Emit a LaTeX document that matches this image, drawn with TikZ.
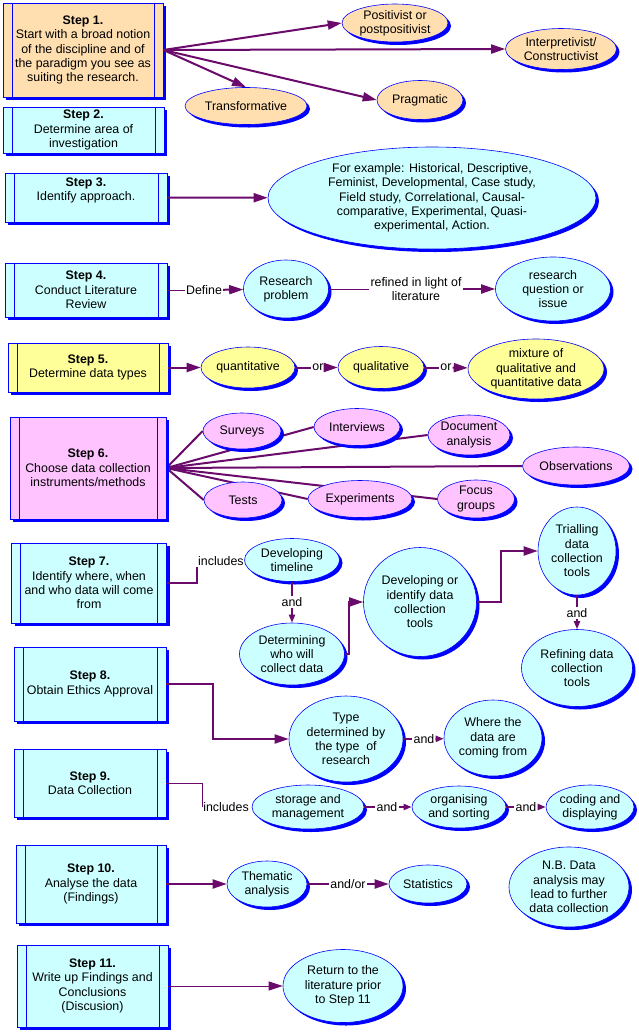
\documentclass[tikz,border=0pt]{standalone}
\usepackage{fontspec}
\setmainfont{Liberation Sans}
\usetikzlibrary{arrows.meta,shapes.geometric,shadows,backgrounds}
\definecolor{boxb}{HTML}{0000FF}
\definecolor{linkc}{HTML}{6A0A6A}
\definecolor{peachc}{HTML}{FFDFB0}
\definecolor{cyanc}{HTML}{CCFFFF}
\definecolor{yelc}{HTML}{FFFF99}
\definecolor{pinkc}{HTML}{FFC4FF}
\tikzset{
  stp/.style={rectangle,draw=boxb,line width=0.8pt,align=center,inner sep=0pt,
    font=\fontsize{12.4}{14.3}\selectfont,
    drop shadow={shadow xshift=3pt,shadow yshift=-3pt,fill=boxb,opacity=1},
    path picture={\draw[boxb,line width=0.8pt]
      ([xshift=9pt]path picture bounding box.north west) -- ([xshift=9pt]path picture bounding box.south west)
      ([xshift=-9pt]path picture bounding box.north east) -- ([xshift=-9pt]path picture bounding box.south east);}},
  el/.style={ellipse,draw=boxb,line width=0.6pt,align=center,inner sep=0pt,
    font=\fontsize{12.4}{14.3}\selectfont,
    drop shadow={shadow xshift=3pt,shadow yshift=-3pt,fill=boxb,opacity=1}},
  sz/.style 2 args={minimum width=#1pt,minimum height=#2pt},
  lb/.style={inner sep=1pt,align=center,font=\fontsize{12.4}{14.3}\selectfont},
  ln/.style={linkc,line width=2pt},
  lt/.style={linkc,line width=1pt},
  ar/.style={ln,-{Triangle[length=14pt,width=9pt]}},
  ars/.style={ln,-{Triangle[length=8pt,width=6pt]}},
  art/.style={lt,-{Triangle[length=14pt,width=9pt]}}
}
\begin{document}
\begin{tikzpicture}[x=1pt,y=-1pt]
\useasboundingbox (0,0) rectangle (639,1034);
% steps
\node[stp,fill=peachc,sz={160}{94}] (s1) at (83,50) {\textbf{Step 1.}\\Start with a broad notion\\of the discipline and of\\the paradigm you see as\\suiting the research.};
\node[stp,fill=cyanc,sz={161}{46}] (s2) at (83.5,130) {\textbf{Step 2.}\\Determine area of\\investigation};
\node[stp,fill=cyanc,sz={162}{49},text depth=17pt] (s3) at (86,197.5) {\textbf{Step 3.}\\Identify approach.};
\node[stp,fill=cyanc,sz={162}{54}] (s4) at (86,290) {\textbf{Step 4.}\\Conduct Literature\\Review};
\node[stp,fill=yelc,sz={160}{49}] (s5) at (88,367.5) {\textbf{Step 5.}\\Determine data types};
\node[stp,fill=pinkc,sz={156}{102}] (s6) at (88,468) {\textbf{Step 6.}\\Choose data collection\\instruments/methods};
\node[stp,fill=cyanc,sz={155}{80}] (s7) at (89,583) {\textbf{Step 7.}\\Identify where, when\\and who data will come\\from};
\node[stp,fill=cyanc,sz={152}{74}] (s8) at (90,684) {\textbf{Step 8.}\\Obtain Ethics Approval};
\node[stp,fill=cyanc,sz={152}{68}] (s9) at (90,783) {\textbf{Step 9.}\\Data Collection};
\node[stp,fill=cyanc,sz={150}{78}] (s10) at (91,884) {\textbf{Step 10.}\\Analyse the data\\(Findings)};
\node[stp,fill=cyanc,sz={151}{82}] (s11) at (92.5,986) {\textbf{Step 11.}\\Write up Findings and\\Conclusions\\(Discusion)};

% step 1
\node[el,fill=peachc,sz={106}{38}] (pos) at (395,23) {Positivist or\\postpositivist};
\node[el,fill=peachc,sz={111}{41}] (inp) at (561,49) {Interpretivist/\\Constructivist};
\node[el,fill=peachc,sz={122}{37}] (tra) at (246,106) {Transformative};
\node[el,fill=peachc,sz={86}{39}] (pra) at (420,100) {Pragmatic};
\draw[ar] (s1.east) -- (pos.west);
\draw[ar] (s1.east) -- (inp.west);
\draw[ar] (s1.east) -- (pra.west);
\draw[ar] (s1.east) -- (tra.north);

% step 3
\node[el,fill=cyanc,sz={328}{102}] (exa) at (432,198) {For example: Historical, Descriptive,\\Feminist, Developmental, Case study,\\Field study, Correlational, Causal-\\comparative, Experimental, Quasi-\\experimental, Action.};
\draw[ar] (s3) -- (exa);

% step 4
\node[lb] (def) at (204,290) {Define};
\node[el,fill=cyanc,sz={85}{58}] (rp) at (286,289) {Research\\problem};
\node[lb] (rfl) at (416,289) {refined in light of\\literature};
\node[el,fill=cyanc,sz={115}{64}] (rq) at (553,289) {research\\question or\\issue};
\draw[lt] (s4) -- (def);
\draw[ar] (def) -- (rp);
\draw[lt] (rp) -- (rfl);
\draw[ar] (rfl) -- (rq);

% step 5
\node[el,fill=yelc,sz={94}{41}] (quan) at (248,367.5) {quantitative};
\node[lb] (or1) at (318,367.5) {or};
\node[el,fill=yelc,sz={86}{42}] (qual) at (381,367.5) {qualitative};
\node[lb] (or2) at (446,367.5) {or};
\node[el,fill=yelc,sz={136}{60}] (mix) at (536,369) {mixture of\\qualitative and\\quantitative data};
\draw[ar] (s5) -- (quan);
\draw[ln] (quan) -- (or1);
\draw[ar] (or1) -- (qual);
\draw[ln] (qual) -- (or2);
\draw[ar] (or2) -- (mix);

% step 6
\node[el,fill=pinkc,sz={78}{36}] (sv) at (242,431) {Surveys};
\node[el,fill=pinkc,sz={86}{37}] (iv) at (357,427) {Interviews};
\node[el,fill=pinkc,sz={82}{40}] (da) at (469,435) {Document\\analysis};
\node[el,fill=pinkc,sz={107}{38}] (ob) at (576,466) {Observations};
\node[el,fill=pinkc,sz={78}{36}] (ts) at (243,500) {Tests};
\node[el,fill=pinkc,sz={104}{37}] (ex) at (360,499) {Experiments};
\node[el,fill=pinkc,sz={77}{38}] (fg) at (476,499) {Focus\\groups};
\begin{scope}[on background layer]
\foreach \n in {sv,iv,da,ob,ts,ex,fg}
  \draw[ln] (s6.east) -- (\n.west);
\end{scope}

% step 7
\node[lb,anchor=south west] (inc1) at (197,567) {includes};
\node[el,fill=cyanc,sz={95}{43}] (tl) at (292,560) {Developing\\timeline};
\node[lb] (and1) at (292,602) {and};
\node[el,fill=cyanc,sz={105}{62}] (det) at (292,654) {Determining\\who will\\collect data};
\node[el,fill=cyanc,sz={113}{109}] (dev) at (420,602) {Developing or\\identify data\\collection\\tools};
\node[el,fill=cyanc,sz={78}{88}] (tri) at (577,551) {Trialling\\data\\collection\\tools};
\node[lb] (and2) at (577,613) {and};
\node[el,fill=cyanc,sz={111}{77}] (rdc) at (577,668) {Refining data\\collection\\tools};
\draw[ln] (s7.east) -| (inc1.south west);
\draw[ln] (tl) -- (and1);
\draw[ars] (and1) -- (det);
\draw[ar] (det.east) -- ++(4,0) |- (dev.west);
\draw[ar] (dev.east) -- ++(24,0) |- (tri.west);
\draw[ln] (tri) -- (and2);
\draw[ars] (and2) -- (rdc);

% step 8
\node[el,fill=cyanc,sz={114}{86}] (tp) at (346,739) {Type\\determined by\\the type \ of\\research};
\node[lb] (and3) at (424,739) {and};
\node[el,fill=cyanc,sz={98}{76}] (wh) at (493,738) {Where the\\data are\\coming from};
\draw[ar] (s8.east) -- ++(47,0) |- (tp.west);
\draw[ln] (tp) -- (and3);
\draw[ars] (and3) -- (wh);

% step 9
\node[lb] (inc2) at (226,807) {includes};
\node[el,fill=cyanc,sz={112}{44}] (sto) at (308,807) {storage and\\management};
\node[lb] (and4) at (387,807) {and};
\node[el,fill=cyanc,sz={94}{42}] (org) at (459,807) {organising\\and sorting};
\node[lb] (and5) at (526,807) {and};
\node[el,fill=cyanc,sz={88}{44}] (cod) at (590,807) {coding and\\displaying};
\draw[lt] (s9.east) -| (inc2.west);
\draw[ln] (sto) -- (and4);
\draw[ars] (and4) -- (org);
\draw[ln] (org) -- (and5);
\draw[ars] (and5) -- (cod);

% step 10
\node[el,fill=cyanc,sz={80}{46}] (the) at (267,884) {Thematic\\analysis};
\node[lb] (ao) at (348,884) {and/or};
\node[el,fill=cyanc,sz={78}{38}] (sta) at (428,884) {Statistics};
\node[el,fill=cyanc,sz={120}{80}] (nb) at (569,887) {N.B. Data\\analysis may\\lead to further\\data collection};
\draw[ar] (s10) -- (the);
\draw[ln] (the) -- (ao);
\draw[ar] (ao) -- (sta);

% step 11
\node[el,fill=cyanc,sz={120}{73}] (ret) at (343,986) {Return to the\\literature prior\\to Step 11};
\draw[art] (s11) -- (ret);
\end{tikzpicture}
\end{document}
